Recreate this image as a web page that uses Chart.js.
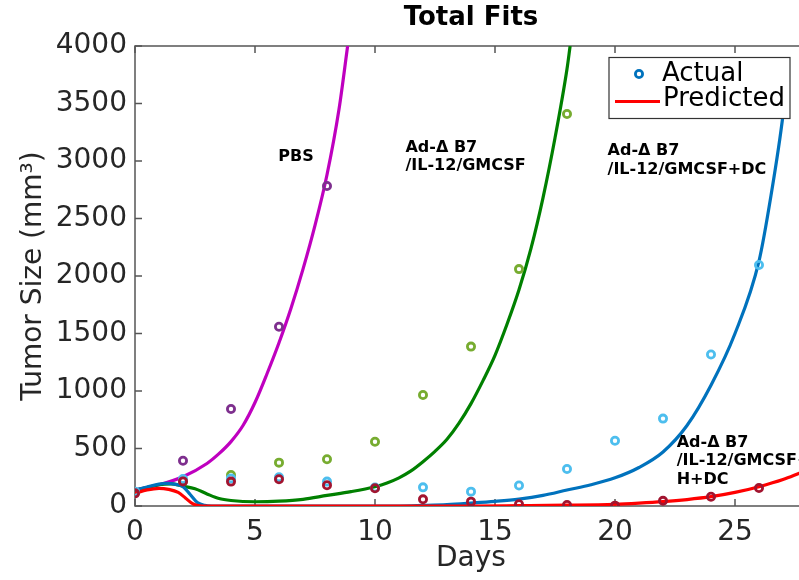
<!DOCTYPE html>
<html>
<head>
<meta charset="utf-8">
<title>Total Fits</title>
<script src="https://cdn.jsdelivr.net/npm/chart.js@4.4.1/dist/chart.umd.min.js"></script>
<style>
  html, body { margin: 0; padding: 0; background: #fff; overflow: hidden; }
  canvas { display: block; }
</style>
</head>
<body>
<canvas id="chart" width="830" height="580"></canvas>
<script>
// measured tumour sizes (mm^3), one value every two days
const measureDays = [0, 2, 4, 6, 8, 10, 12, 14, 16, 18, 20, 22, 24, 26];
const pbsActual = [115, 394, 843, 1559, 2783];
const gmcsfActual = [120, 217, 270, 377, 406, 559, 965, 1386, 2060, 3409];
const gmcsfDcActual = [125, 235, 240, 249, 212, 160, 162, 125, 178, 322, 568, 760, 1318, 2096];
const gmcsfHDcActual = [110, 214, 212, 232, 180, 154, 58, 38, 15, 9, 3, 45, 81, 157];

// model curves
const pbsFitDays = [0, 1, 2, 3, 3.5, 4, 4.5, 5, 5.5, 6, 6.5, 7, 7.5, 8, 8.5, 8.86];
const pbsFit = [139, 185, 255, 370, 455, 560, 700, 900, 1150, 1420, 1720, 2060, 2440, 2880, 3450, 4000];

const gmcsfFitDays = [0, 0.5, 1, 1.5, 2, 2.5, 3, 3.5, 4, 5, 6, 7, 8, 9, 10, 10.5, 11, 11.5, 12, 12.5, 13, 13.5, 14, 14.5, 15, 15.5, 16, 16.5, 17, 17.5, 18, 18.13];
const gmcsfFit = [135, 160, 185, 192, 172, 150, 105, 65, 48, 37, 42, 58, 92, 125, 168, 200, 245, 305, 385, 475, 580, 720, 890, 1090, 1310, 1580, 1880, 2240, 2680, 3200, 3800, 4000];

const gmcsfDcFitDays = [0, 0.5, 1, 1.3, 1.7, 2, 2.3, 2.6, 2.9, 3.2, 11, 12, 13, 14, 15, 16, 17, 18, 19, 20, 21, 22, 23, 24, 25, 26, 26.5, 27, 27.2];
const gmcsfDcFit = [139, 165, 190, 197, 188, 168, 100, 30, 5, 0, 0, 5, 12, 25, 40, 60, 92, 139, 185, 245, 335, 470, 700, 1050, 1500, 2130, 2700, 3400, 3800];

const gmcsfHDcFitDays = [0, 0.5, 1, 1.4, 1.8, 2.1, 2.4, 2.7, 3, 14, 16, 18, 20, 21, 22, 23, 24, 25, 26, 27, 27.7];
const gmcsfHDcFit = [110, 140, 154, 145, 118, 70, 20, 2, 0, 0, 3, 7, 15, 25, 38, 56, 81, 118, 168, 230, 287];

const xTicks = { min: 0, max: 28, step: 5 };
const yTicks = { min: 0, max: 4000, step: 500 };

// group names written next to each curve: anchor = left edge / first line centre
const groupLabels = [
  { lines: ['PBS'], day: 5.97, value: 3037 },
  { lines: ['Ad-Δ B7', '/IL-12/GMCSF'], day: 11.27, value: 3117 },
  { lines: ['Ad-Δ B7', '/IL-12/GMCSF+DC'], day: 19.69, value: 3087 },
  { lines: ['Ad-Δ B7', '/IL-12/GMCSF+', 'H+DC'], day: 22.57, value: 552 }
];

const toPoints = (xs, ys) => ys.map((v, i) => ({ x: xs[i], y: v }));

const FONT = "'DejaVu Sans', 'Liberation Sans', sans-serif";
const AXIS = '#262626';

Chart.defaults.font.family = FONT;
Chart.defaults.color = AXIS;

function fitLine(label, xs, ys, color, order) {
  return {
    label, data: toPoints(xs, ys), showLine: true, borderColor: color, borderWidth: 3.2,
    pointRadius: 0, fill: false, cubicInterpolationMode: 'monotone', order
  };
}
function actual(label, ys, color, order) {
  return {
    label, data: toPoints(measureDays, ys), showLine: false, borderColor: color,
    backgroundColor: 'rgba(0,0,0,0)', borderWidth: 2.8, pointRadius: 3.6, pointStyle: 'circle', order
  };
}

// box + inward tick marks, drawn under the data
const frame = {
  id: 'frame',
  beforeDatasetsDraw(chart) {
    const { ctx, chartArea: a, scales: { x, y } } = chart;
    ctx.save();
    ctx.strokeStyle = '#555';
    ctx.lineWidth = 1.5;
    ctx.strokeRect(a.left, a.top, a.right - a.left, a.bottom - a.top);
    ctx.beginPath();
    x.ticks.forEach(t => {
      const px = x.getPixelForValue(t.value);
      ctx.moveTo(px, a.bottom); ctx.lineTo(px, a.bottom - 7);
      ctx.moveTo(px, a.top); ctx.lineTo(px, a.top + 7);
    });
    y.ticks.forEach(t => {
      const py = y.getPixelForValue(t.value);
      ctx.moveTo(a.left, py); ctx.lineTo(a.left + 7, py);
      ctx.moveTo(a.right, py); ctx.lineTo(a.right - 7, py);
    });
    ctx.stroke();
    ctx.restore();
  }
};

const groupText = {
  id: 'groupText',
  afterDatasetsDraw(chart) {
    const { ctx, scales: { x, y } } = chart;
    ctx.save();
    ctx.fillStyle = '#000';
    ctx.font = 'bold 16px ' + FONT;
    ctx.textAlign = 'left';
    ctx.textBaseline = 'middle';
    groupLabels.forEach(g => {
      const px = x.getPixelForValue(g.day);
      const py = y.getPixelForValue(g.value);
      g.lines.forEach((s, i) => ctx.fillText(s, px, py + i * 18.5));
    });
    ctx.restore();
  }
};

const legendBox = {
  id: 'legendBox',
  afterDraw(chart) {
    const ctx = chart.ctx;
    ctx.save();
    ctx.fillStyle = '#fff';
    ctx.fillRect(609, 57.5, 181, 61);
    ctx.strokeStyle = '#333';
    ctx.lineWidth = 1.2;
    ctx.strokeRect(609, 57.5, 181, 61);
    ctx.strokeStyle = '#0072bd';
    ctx.lineWidth = 2.8;
    ctx.beginPath();
    ctx.arc(639, 74, 3.6, 0, Math.PI * 2);
    ctx.stroke();
    ctx.strokeStyle = '#ff0000';
    ctx.lineWidth = 3.2;
    ctx.beginPath();
    ctx.moveTo(615, 101.5); ctx.lineTo(660, 101.5);
    ctx.stroke();
    ctx.fillStyle = '#000';
    ctx.font = '26px ' + FONT;
    ctx.textBaseline = 'middle';
    ctx.fillText('Actual', 662, 74);
    ctx.fillText('Predicted', 663, 99.5);
    ctx.restore();
  }
};

new Chart(document.getElementById('chart'), {
  type: 'scatter',
  data: {
    datasets: [
      actual('PBS actual', pbsActual, '#7e2f8e', 4),
      actual('GMCSF actual', gmcsfActual, '#77ac30', 3),
      actual('GMCSF+DC actual', gmcsfDcActual, '#4dbeee', 2),
      actual('GMCSF+H+DC actual', gmcsfHDcActual, '#a2142f', 1),
      fitLine('PBS', pbsFitDays, pbsFit, '#bf00bf', 8),
      fitLine('GMCSF', gmcsfFitDays, gmcsfFit, '#008000', 7),
      fitLine('GMCSF+DC', gmcsfDcFitDays, gmcsfDcFit, '#0072bd', 6),
      fitLine('GMCSF+H+DC', gmcsfHDcFitDays, gmcsfHDcFit, '#ff0000', 5)
    ]
  },
  options: {
    responsive: false,
    animation: false,
    layout: { padding: { left: 0, right: 23, top: 0, bottom: 0 } },
    plugins: {
      legend: { display: false },
      tooltip: { enabled: false },
      title: {
        display: true, text: 'Total Fits', fullSize: false, color: '#000',
        font: { size: 26, weight: 'bold' }, padding: { top: 3, bottom: 11.8 }
      }
    },
    scales: {
      x: {
        type: 'linear', min: xTicks.min, max: xTicks.max,
        afterFit(s) { s.height = 74; },
        grid: { display: false, drawTicks: false },
        border: { display: false },
        ticks: { stepSize: xTicks.step, includeBounds: false, padding: 10, maxRotation: 0,
          font: { size: 28 }, color: AXIS, callback: v => String(v) },
        title: { display: true, text: 'Days', font: { size: 28 }, color: AXIS, padding: { top: 0, bottom: 4 } }
      },
      y: {
        type: 'linear', min: yTicks.min, max: yTicks.max,
        afterFit(s) { s.width = 135; },
        grid: { display: false, drawTicks: false },
        border: { display: false },
        ticks: { stepSize: yTicks.step, padding: 8, font: { size: 28 }, color: AXIS, callback: v => String(v) },
        title: { display: true, text: 'Tumor Size (mm³)', font: { size: 28 }, color: AXIS, padding: { top: 17, bottom: 0 } }
      }
    }
  },
  plugins: [frame, groupText, legendBox]
});
</script>
</body>
</html>
